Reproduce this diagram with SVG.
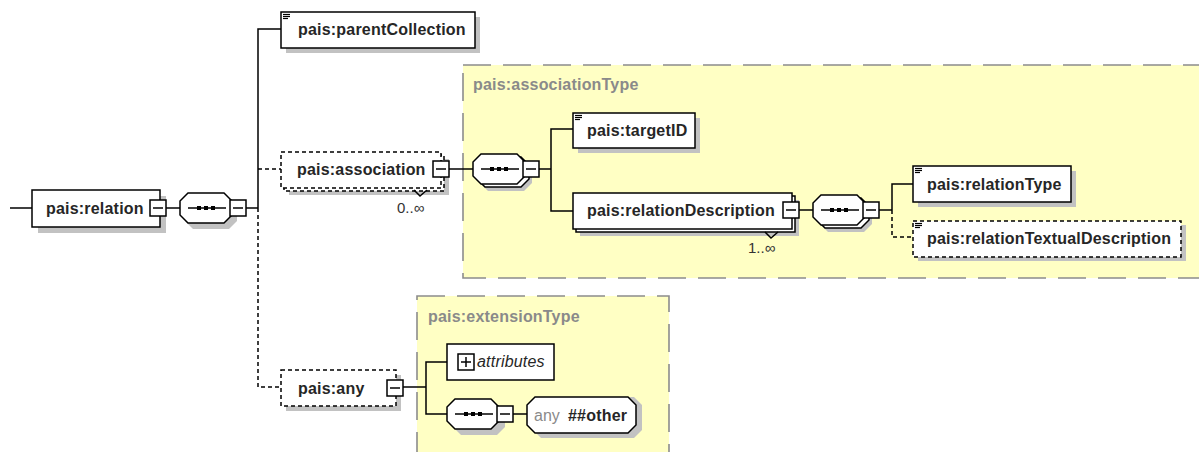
<svg xmlns="http://www.w3.org/2000/svg" width="1199" height="452" viewBox="0 0 1199 452">
<style>
.region{fill:#ffffc4;stroke:#8c8c8c;stroke-width:1.6;stroke-dasharray:28 12}
.rt{font-family:"Liberation Sans",Arial,sans-serif;font-weight:bold;font-size:16px;fill:#8a8a8a;letter-spacing:0.2px}
.box{fill:#fff;stroke:#000;stroke-width:1.5}
.dbox{fill:#fff;stroke:#000;stroke-width:1.5;stroke-dasharray:4 3}
.sh{fill:#c2c2c2}
.ln{stroke:#000;stroke-width:1.5;fill:none}
.dl{stroke:#000;stroke-width:1.5;fill:none;stroke-dasharray:4 3}
.t{font-family:"Liberation Sans",Arial,sans-serif;font-weight:bold;font-size:16px;fill:#262626;letter-spacing:0.2px}
.m{font-family:"Liberation Sans",Arial,sans-serif;font-size:15px;fill:#333}
.it{font-family:"Liberation Sans",Arial,sans-serif;font-style:italic;font-size:16px;fill:#262626;letter-spacing:0.2px}
.gr{font-family:"Liberation Sans",Arial,sans-serif;font-size:16px;fill:#8a8a8a}
.ic{stroke:#000;stroke-width:1.2}
</style>
<defs>
<g id="minus"><rect class="box" x="0" y="0" width="16" height="16"/><line class="ln" x1="3" y1="8" x2="13" y2="8"/></g>
<g id="seqin"><line class="ln" x1="0" y1="0" x2="38" y2="0"/><rect x="9" y="-2" width="4" height="4" fill="#000"/><rect x="16" y="-2" width="4" height="4" fill="#000"/><rect x="23" y="-2" width="4" height="4" fill="#000"/></g>
<path id="oct" d="M8,0 H44 L52,8 V22 L44,30 H8 L0,22 V8 Z"/>
<g id="icon"><line class="ic" x1="0" y1="0.5" x2="7" y2="0.5"/><line class="ic" x1="0" y1="2.5" x2="7" y2="2.5"/><line class="ic" x1="0" y1="4.5" x2="5" y2="4.5"/></g>
</defs>

<!-- regions -->
<g id="associationType">
<rect class="region" x="463" y="65" width="745" height="213"/>
<text class="rt" x="473" y="90">pais:associationType</text>
</g>
<g id="extensionType">
<rect class="region" x="417" y="296" width="252" height="170"/>
<text class="rt" x="428" y="322">pais:extensionType</text>
</g>

<!-- connectors -->
<g id="connectors">
<line class="ln" x1="10" y1="208" x2="32" y2="208"/>
<line class="ln" x1="166" y1="208" x2="181" y2="208"/>
<line class="ln" x1="246" y1="208" x2="258" y2="208"/>
<polyline class="ln" points="281,29 258,29 258,208"/>
<polyline class="dl" points="258,208 258,387 281,387"/>
<line class="dl" x1="258" y1="169" x2="281" y2="169"/>
<line class="ln" x1="449" y1="169" x2="474" y2="169"/>
<line class="ln" x1="539" y1="169" x2="551" y2="169"/>
<polyline class="ln" points="573,129 551,129 551,211 573,211"/>
<line class="ln" x1="799" y1="210" x2="814" y2="210"/>
<line class="ln" x1="879" y1="210" x2="892" y2="210"/>
<polyline class="ln" points="913,184 892,184 892,210"/>
<polyline class="dl" points="892,210 892,237 913,237"/>
<line class="ln" x1="403" y1="387" x2="426" y2="387"/>
<polyline class="ln" points="447,362 426,362 426,414 447,414"/>
<line class="ln" x1="513" y1="414" x2="527" y2="414"/>
</g>

<g id="relation">
<rect class="sh" x="38" y="196" width="128" height="37"/>
<rect class="box" x="32" y="190" width="128" height="37"/>
<text class="t" x="46" y="214">pais:relation</text>
<use href="#minus" x="150" y="200"/>
</g>

<g id="seq1">
<use href="#oct" x="185" y="199" class="sh"/>
<use href="#oct" x="180" y="193" class="box"/>
<use href="#seqin" x="188" y="208"/>
<use href="#minus" x="230" y="200"/>
</g>

<g id="parentCollection">
<rect class="sh" x="286" y="17" width="194" height="36"/>
<rect class="box" x="281" y="12" width="194" height="36"/>
<use href="#icon" x="283" y="14"/>
<text class="t" x="298" y="35">pais:parentCollection</text>
</g>

<g id="association">
<rect class="sh" x="289" y="159" width="160" height="36"/>
<rect class="dbox" x="284" y="155" width="160" height="36"/>
<rect class="dbox" x="281" y="152" width="160" height="36"/>
<text class="t" x="297" y="175">pais:association</text>
<use href="#minus" x="433" y="161"/>
<polyline class="ln" points="414,190 420,196 427,190"/>
<text class="m" x="397" y="213">0..∞</text>
</g>

<g id="seq2">
<use href="#oct" x="480" y="161" class="sh"/>
<use href="#oct" x="477" y="157" class="box"/>
<use href="#oct" x="473" y="154" class="box"/>
<use href="#seqin" x="481" y="169"/>
<use href="#minus" x="523" y="161"/>
</g>

<g id="targetID">
<rect class="sh" x="578" y="118" width="122" height="35"/>
<rect class="box" x="573" y="113" width="122" height="35"/>
<use href="#icon" x="575" y="115"/>
<text class="t" x="587" y="136">pais:targetID</text>
</g>

<g id="relationDescription">
<rect class="sh" x="580" y="200" width="219" height="36"/>
<rect class="box" x="576" y="196" width="219" height="36"/>
<rect class="box" x="573" y="193" width="219" height="36"/>
<text class="t" x="587" y="216">pais:relationDescription</text>
<use href="#minus" x="783" y="202"/>
<polyline class="ln" points="765,232 771,238 778,232"/>
<text class="m" x="748" y="253">1..∞</text>
</g>

<g id="seq3">
<use href="#oct" x="820" y="202" class="sh"/>
<use href="#oct" x="817" y="198" class="box"/>
<use href="#oct" x="813" y="195" class="box"/>
<use href="#seqin" x="821" y="210"/>
<use href="#minus" x="863" y="202"/>
</g>

<g id="relationType">
<rect class="sh" x="918" y="171" width="158" height="36"/>
<rect class="box" x="913" y="166" width="158" height="36"/>
<use href="#icon" x="915" y="168"/>
<text class="t" x="927" y="190">pais:relationType</text>
</g>

<g id="relationTextualDescription">
<rect class="sh" x="918" y="225" width="268" height="36"/>
<rect class="dbox" x="913" y="221" width="268" height="36"/>
<use href="#icon" x="915" y="223"/>
<text class="t" x="927" y="244">pais:relationTextualDescription</text>
</g>

<g id="any">
<rect class="sh" x="286" y="375" width="115" height="36"/>
<rect class="dbox" x="281" y="370" width="115" height="36"/>
<text class="t" x="298" y="394">pais:any</text>
<use href="#minus" x="387" y="380"/>
</g>

<g id="attributes">
<rect class="box" x="447" y="344" width="107" height="36"/>
<rect class="box" x="458" y="354" width="16" height="16"/>
<line class="ln" x1="461" y1="362" x2="471" y2="362"/>
<line class="ln" x1="466" y1="357" x2="466" y2="367"/>
<text class="it" x="477" y="367">attributes</text>
</g>

<g id="seq4">
<use href="#oct" x="453" y="405" class="sh"/>
<use href="#oct" x="447" y="399" class="box"/>
<use href="#seqin" x="455" y="414"/>
<use href="#minus" x="497" y="406"/>
</g>

<g id="anyOther">
<path class="sh" d="M541,403 H634 L642,411 V436 L634,444 H541 L533,436 V411 Z" transform="translate(0,-6)"/>
<path class="box" d="M535,397 H628 L636,405 V425 L628,433 H535 L527,425 V405 Z"/>
<text class="gr" x="534" y="421">any</text>
<text class="t" x="568" y="421">##other</text>
</g>
</svg>
